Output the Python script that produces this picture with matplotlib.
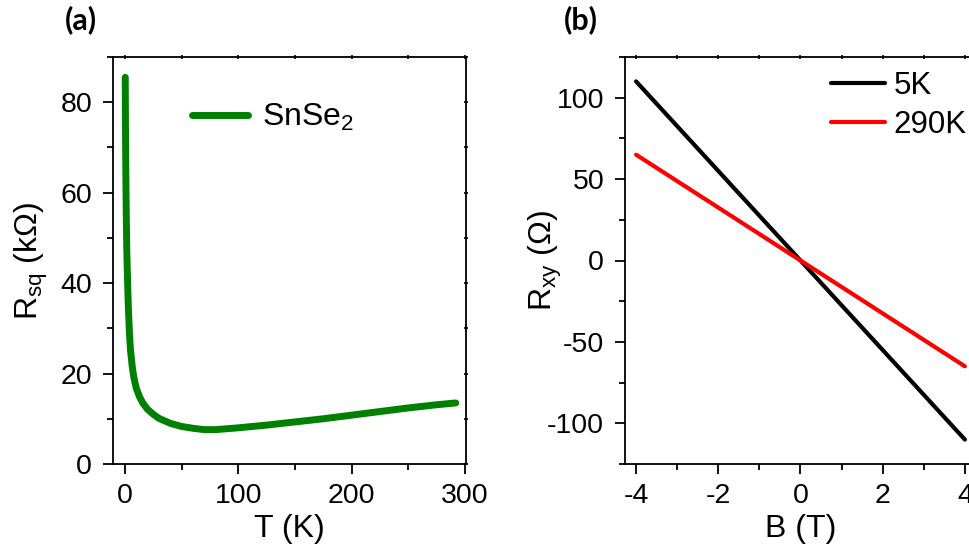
import matplotlib
matplotlib.use("Agg")
import matplotlib.pyplot as plt
from matplotlib.ticker import MultipleLocator

plt.rcParams['font.family'] = ['Liberation Sans', 'DejaVu Sans']
plt.rcParams['mathtext.default'] = 'regular'
plt.rcParams['axes.unicode_minus'] = False

# panel (a): sheet resistance vs temperature
temp_k = [0.3, 0.5, 0.8, 1.2, 1.7, 2.3, 3, 4, 5, 6.5, 8, 10, 13, 16, 20, 25, 30,
          40, 50, 60, 70, 80, 90, 100, 125, 150, 175, 200, 225, 250, 275, 292]
r_sq = [85.5, 75, 65, 55, 47, 41, 35, 29, 25, 21.5, 19.0, 16.8, 14.8, 13.4, 12.1, 11.0, 10.1,
        9.0, 8.3, 7.9, 7.6, 7.6, 7.8, 8.0, 8.6, 9.3, 10.0, 10.8, 11.6, 12.4, 13.1, 13.5]

# panel (b): Hall resistance vs field
field_t = [-4, 0, 4]
rxy_5k = [110, 0, -110]
rxy_290k = [65, 0, -65]

fig = plt.figure(figsize=(9.7, 5.55), dpi=100)

ax1 = fig.add_axes([113/970, 91/555, 353/970, 407/555])
ax2 = fig.add_axes([625/970, 91/555, 351/970, 407/555])

ax1.plot(temp_k, r_sq, color='#008000', lw=5, solid_capstyle='round', label='SnSe$_2$')
ax1.set_xlim(-10.5, 301)
ax1.set_ylim(0, 90)
ax1.xaxis.set_major_locator(MultipleLocator(100))
ax1.xaxis.set_minor_locator(MultipleLocator(50))
ax1.yaxis.set_major_locator(MultipleLocator(20))
ax1.yaxis.set_minor_locator(MultipleLocator(10))
ax1.set_xlabel("T (K)", fontsize=23, labelpad=3)
ax1.set_ylabel("R$_{sq}$ (k\u03a9)", fontsize=23)
ax1.yaxis.set_label_coords(-0.178, 0.5)
ax1.legend(loc='upper left', bbox_to_anchor=(0.142, 0.96), frameon=False, fontsize=23,
           handlelength=1.75, handletextpad=0.45)

ax2.plot(field_t, rxy_5k, color='black', lw=3, solid_capstyle='round', label='5K')
ax2.plot(field_t, rxy_290k, color='#ff0000', lw=3, solid_capstyle='round', label='290K')
ax2.set_xlim(-4.27, 4.27)
ax2.set_ylim(-125, 125)
ax2.xaxis.set_major_locator(MultipleLocator(2))
ax2.xaxis.set_minor_locator(MultipleLocator(1))
ax2.yaxis.set_major_locator(MultipleLocator(50))
ax2.yaxis.set_minor_locator(MultipleLocator(25))
ax2.set_xlabel("B (T)", fontsize=23, labelpad=3)
ax2.set_ylabel("R$_{xy}$ (\u03a9)", fontsize=23)
ax2.yaxis.set_label_coords(-0.174, 0.5)
ax2.legend(loc='upper left', bbox_to_anchor=(0.506, 1.035), frameon=False, fontsize=22.5,
           handlelength=1.75, handletextpad=0.25, labelspacing=0.3)

for ax in (ax1, ax2):
    for s in ax.spines.values():
        s.set_linewidth(1.3)
    ax.tick_params(which='both', direction='out', labelsize=20.5, width=1.3,
                   top=False, right=False)
    ax.tick_params(axis='x', pad=7)
    ax.tick_params(axis='y', pad=8)
    ax.tick_params(which='major', length=7)
    ax.tick_params(which='minor', length=4.5)
    sec = ax.secondary_xaxis('top')
    sec.set_xticks(list(ax.get_xticks()) + list(ax.xaxis.get_minorticklocs()))
    sec.tick_params(direction='inout', length=2.5, width=1.2, labeltop=False)
    sec.spines['top'].set_visible(False)
    secy = ax.secondary_yaxis('right')
    secy.set_yticks(list(ax.get_yticks()) + list(ax.yaxis.get_minorticklocs()))
    secy.tick_params(direction='inout', length=2.5, width=1.2, labelright=False)
    secy.spines['right'].set_visible(False)

fig.text(81/970, 1 - 20/555, "(a)", fontsize=22, fontweight='bold', family='Lato',
         ha='center', va='center')
fig.text(581/970, 1 - 20/555, "(b)", fontsize=22, fontweight='bold', family='Lato',
         ha='center', va='center')

fig.savefig("out.png", dpi=100)
